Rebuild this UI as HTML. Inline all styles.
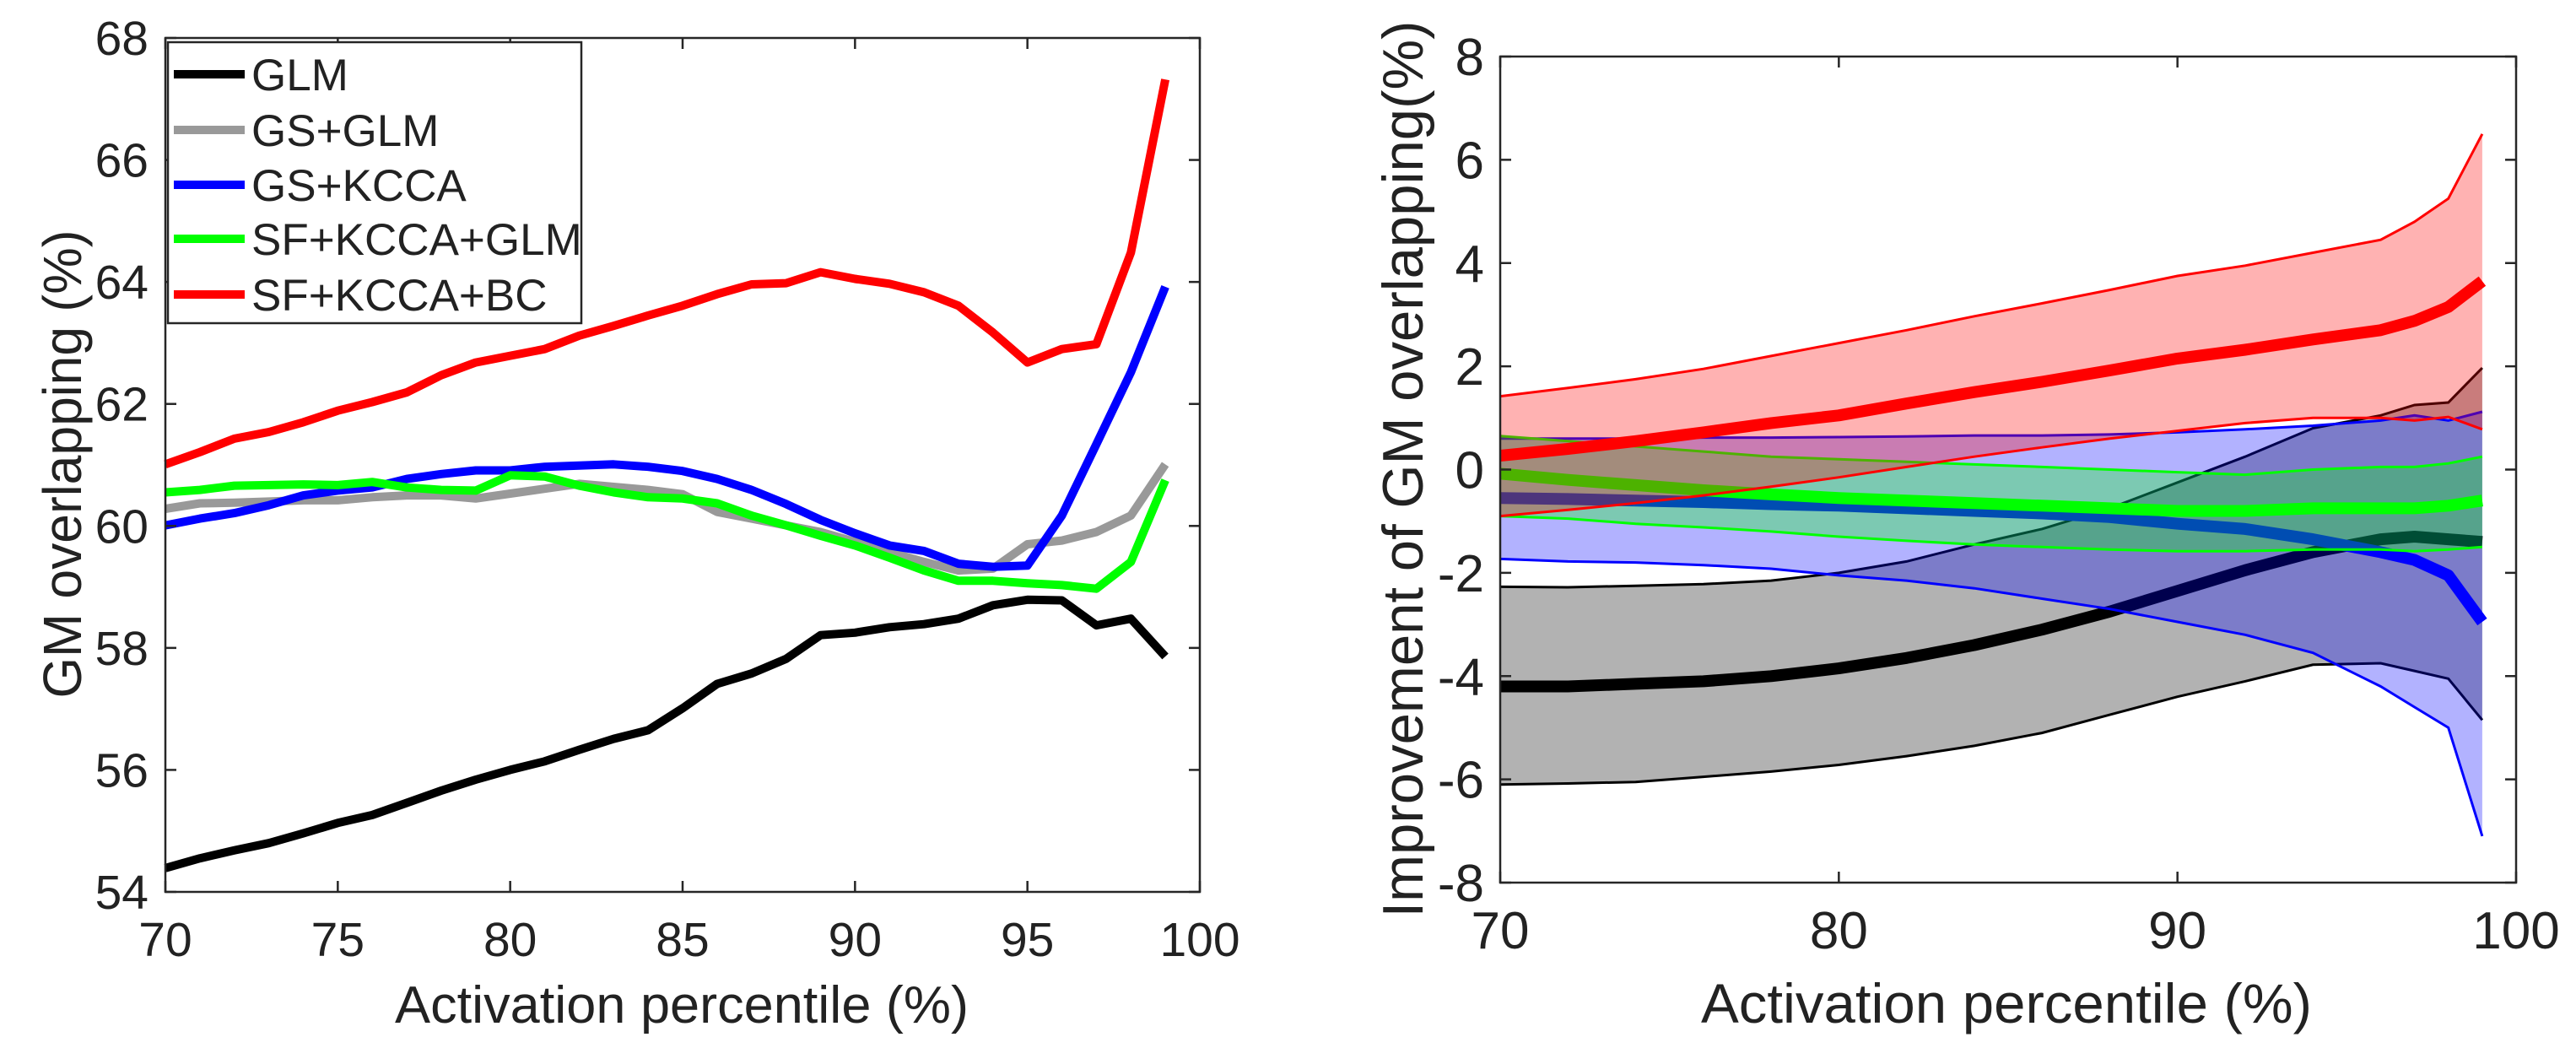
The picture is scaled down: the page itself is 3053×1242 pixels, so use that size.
<!DOCTYPE html>
<html><head><meta charset="utf-8"><style>
html,body{margin:0;padding:0;background:#fff}
svg text{font-family:"Liberation Sans",Arial,sans-serif;fill:#222}
</style></head><body>
<svg id="fig" width="3053" height="1237" viewBox="0 0 3053 1237" xmlns="http://www.w3.org/2000/svg">
<g id="left"></g>
<g id="right"></g>
</svg>
<script>
// ---------- Left chart data ----------
const xLeft = [70,71,72,73,74,75,76,77,78,79,80,81,82,83,84,85,86,87,88,89,90,91,92,93,94,95,96,97,98,99];
const glm = [54.39,54.55,54.68,54.80,54.96,55.13,55.26,55.46,55.66,55.84,56.00,56.14,56.33,56.51,56.65,57.01,57.41,57.58,57.82,58.21,58.25,58.34,58.39,58.48,58.70,58.79,58.78,58.37,58.48,57.86];
const gsGlm = [60.28,60.37,60.38,60.40,60.42,60.42,60.47,60.50,60.50,60.45,60.53,60.61,60.69,60.64,60.59,60.52,60.23,60.12,60.01,59.90,59.74,59.57,59.41,59.27,59.30,59.70,59.76,59.90,60.17,61.01];
const gsKcca = [60.01,60.12,60.21,60.34,60.50,60.58,60.63,60.77,60.85,60.91,60.91,60.97,60.99,61.01,60.97,60.90,60.77,60.59,60.36,60.10,59.88,59.68,59.59,59.38,59.33,59.35,60.17,61.34,62.52,63.92];
const sfKccaGlm = [60.55,60.59,60.66,60.67,60.68,60.67,60.72,60.63,60.59,60.58,60.83,60.81,60.66,60.55,60.47,60.45,60.37,60.17,60.01,59.84,59.68,59.48,59.27,59.10,59.10,59.06,59.03,58.97,59.41,60.75];
const sfKccaBc = [61.01,61.21,61.43,61.54,61.70,61.89,62.03,62.19,62.47,62.68,62.79,62.90,63.12,63.28,63.45,63.61,63.80,63.96,63.98,64.16,64.05,63.97,63.83,63.61,63.17,62.68,62.90,62.98,64.48,67.32];
const leftXTicks = [70,75,80,85,90,95,100];
const leftYTicks = [54,56,58,60,62,64,66,68];
const legendLabels = ["GLM","GS+GLM","GS+KCCA","SF+KCCA+GLM","SF+KCCA+BC"];

// ---------- Right chart data ----------
const xRight = [70,72,74,76,78,80,82,84,86,88,90,92,94,96,97,98,99];
const blackUpper = [-2.27,-2.28,-2.25,-2.22,-2.15,-2.0,-1.78,-1.45,-1.15,-0.75,-0.25,0.25,0.8,1.05,1.25,1.3,1.97];
const blackMean  = [-4.2,-4.2,-4.15,-4.1,-4.0,-3.85,-3.65,-3.4,-3.1,-2.75,-2.35,-1.95,-1.6,-1.35,-1.3,-1.35,-1.4];
const blackLower = [-6.1,-6.08,-6.05,-5.95,-5.85,-5.72,-5.55,-5.35,-5.1,-4.75,-4.4,-4.1,-3.78,-3.75,-3.9,-4.05,-4.85];
const blueUpper = [0.6,0.6,0.6,0.62,0.62,0.63,0.64,0.66,0.66,0.68,0.72,0.78,0.85,0.95,1.05,0.95,1.12];
const blueMean  = [-0.55,-0.57,-0.6,-0.63,-0.67,-0.7,-0.75,-0.8,-0.85,-0.92,-1.05,-1.15,-1.35,-1.6,-1.75,-2.05,-2.95];
const blueLower = [-1.73,-1.78,-1.8,-1.85,-1.92,-2.05,-2.15,-2.3,-2.5,-2.7,-2.95,-3.2,-3.55,-4.2,-4.6,-5.0,-7.1];
const greenUpper = [0.65,0.55,0.45,0.35,0.25,0.2,0.15,0.1,0.05,0.0,-0.05,-0.1,0.0,0.05,0.05,0.12,0.25];
const greenMean  = [-0.08,-0.2,-0.3,-0.4,-0.48,-0.55,-0.6,-0.65,-0.7,-0.75,-0.8,-0.8,-0.75,-0.75,-0.75,-0.7,-0.6];
const greenLower = [-0.9,-0.95,-1.05,-1.12,-1.2,-1.3,-1.38,-1.45,-1.5,-1.55,-1.58,-1.58,-1.55,-1.55,-1.58,-1.55,-1.5];
const redUpper = [1.42,1.58,1.75,1.95,2.2,2.45,2.7,2.97,3.22,3.48,3.75,3.95,4.2,4.45,4.8,5.25,6.5];
const redMean  = [0.27,0.4,0.55,0.72,0.9,1.05,1.28,1.5,1.7,1.92,2.15,2.32,2.52,2.7,2.88,3.15,3.65];
const redLower = [-0.9,-0.78,-0.65,-0.5,-0.33,-0.15,0.05,0.25,0.43,0.6,0.75,0.9,1.0,1.0,0.95,1.02,0.78];
const rightXTicks = [70,80,90,100];
const rightYTicks = [-8,-6,-4,-2,0,2,4,6,8];

const NS = "http://www.w3.org/2000/svg";
function mk(tag, attrs, parent){
  const e = document.createElementNS(NS, tag);
  for (const k in attrs) e.setAttribute(k, attrs[k]);
  parent.appendChild(e);
  return e;
}
function scale(d0,d1,r0,r1){ return v => r0 + (v-d0)/(d1-d0)*(r1-r0); }
function pts(xs, ys, sx, sy){ return xs.map((x,i)=>sx(x).toFixed(1)+","+sy(ys[i]).toFixed(1)).join(" "); }

// ---------- LEFT ----------
(function(){
  const g = document.getElementById('left');
  const L=196,R=1422,T=45,B=1057;
  const sx = scale(70,100,L,R), sy = scale(54,68,B,T);
  const series = [
    {d:glm, c:"#000000", n:"glm-line"},
    {d:gsGlm, c:"#999999", n:"gs-glm-line"},
    {d:gsKcca, c:"#0000ff", n:"gs-kcca-line"},
    {d:sfKccaGlm, c:"#00ff00", n:"sf-kcca-glm-line"},
    {d:sfKccaBc, c:"#ff0000", n:"sf-kcca-bc-line"}
  ];
  const axisBg = mk('rect',{x:L,y:T,width:R-L,height:B-T,fill:"#fff"},g);
  
  
  series.forEach(s=>{
    const p = mk('polyline',{points:pts(xLeft,s.d,sx,sy),fill:"none",stroke:s.c,"stroke-width":10,"stroke-linejoin":"round"},g);
    
    
  });
  const box = mk('rect',{x:L,y:T,width:R-L,height:B-T,fill:"none",stroke:"#262626","stroke-width":2.5},g);
  
  
  leftXTicks.forEach(t=>{
    const x=sx(t);
    mk('line',{x1:x,y1:B,x2:x,y2:B-13,stroke:"#262626","stroke-width":2.5},g);
    mk('line',{x1:x,y1:T,x2:x,y2:T+13,stroke:"#262626","stroke-width":2.5},g);
    const tx = mk('text',{x:x,y:1133,"font-size":57,"text-anchor":"middle"},g);
    tx.textContent=t;
    
    
  });
  leftYTicks.forEach(t=>{
    const y=sy(t);
    mk('line',{x1:L,y1:y,x2:L+13,y2:y,stroke:"#262626","stroke-width":2.5},g);
    mk('line',{x1:R,y1:y,x2:R-13,y2:y,stroke:"#262626","stroke-width":2.5},g);
    const tx = mk('text',{x:176,y:y+20,"font-size":57,"text-anchor":"end"},g);
    tx.textContent=t;
    
    
  });
  const xl = mk('text',{x:808,y:1212,"font-size":62,"text-anchor":"middle",textLength:680,lengthAdjust:"spacingAndGlyphs"},g);
  xl.textContent="Activation percentile (%)";
  
  
  const yl = mk('text',{x:0,y:0,"font-size":64,"text-anchor":"middle",textLength:555,lengthAdjust:"spacingAndGlyphs",transform:"translate(96,550) rotate(-90)"},g);
  yl.textContent="GM overlapping (%)";
  
  
  const lg = mk('g',{},g);
  
  
  const lb = mk('rect',{x:199,y:50,width:490,height:333,fill:"#fff",stroke:"#262626","stroke-width":2.5},lg);
  
  
  const ys=[88,154,219,283,349];
  legendLabels.forEach((lab,i)=>{
    const e = mk('g',{},lg);
    
    
    mk('line',{x1:206,y1:ys[i],x2:290,y2:ys[i],stroke:series[i].c,"stroke-width":10},e);
    const t = mk('text',{x:298,y:ys[i]+19,"font-size":53},e);
    t.textContent=lab;
  });
})();

// ---------- RIGHT ----------
(function(){
  const g = document.getElementById('right');
  const L=1778,R=2982,T=67,B=1046;
  const sx = scale(70,100,L,R), sy = scale(-8,8,B,T);
  const bands = [
    {u:blackUpper,m:blackMean,l:blackLower,c:"#000000",n:"glm"},
    {u:blueUpper,m:blueMean,l:blueLower,c:"#0000ff",n:"gs-kcca"},
    {u:greenUpper,m:greenMean,l:greenLower,c:"#00ff00",n:"sf-kcca-glm"},
    {u:redUpper,m:redMean,l:redLower,c:"#ff0000",n:"sf-kcca-bc"}
  ];
  bands.forEach(b=>{
    const poly = pts(xRight,b.u,sx,sy)+" "+pts(xRight.slice().reverse(),b.l.slice().reverse(),sx,sy);
    const f = mk('polygon',{points:poly,fill:b.c,"fill-opacity":0.3,stroke:"none"},g);
    
    
    const u = mk('polyline',{points:pts(xRight,b.u,sx,sy),fill:"none",stroke:b.c,"stroke-width":3},g);
    
    
    const lo = mk('polyline',{points:pts(xRight,b.l,sx,sy),fill:"none",stroke:b.c,"stroke-width":3},g);
    
    
    const m = mk('polyline',{points:pts(xRight,b.m,sx,sy),fill:"none",stroke:b.c,"stroke-width":14,"stroke-linejoin":"round"},g);
    
    
  });
  const box = mk('rect',{x:L,y:T,width:R-L,height:B-T,fill:"none",stroke:"#262626","stroke-width":2.5},g);
  
  
  rightXTicks.forEach(t=>{
    const x=sx(t);
    mk('line',{x1:x,y1:B,x2:x,y2:B-13,stroke:"#262626","stroke-width":2.5},g);
    mk('line',{x1:x,y1:T,x2:x,y2:T+13,stroke:"#262626","stroke-width":2.5},g);
    const tx = mk('text',{x:x,y:1124,"font-size":62,"text-anchor":"middle"},g);
    tx.textContent=t;
    
    
  });
  rightYTicks.forEach(t=>{
    const y=sy(t);
    mk('line',{x1:L,y1:y,x2:L+13,y2:y,stroke:"#262626","stroke-width":2.5},g);
    mk('line',{x1:R,y1:y,x2:R-13,y2:y,stroke:"#262626","stroke-width":2.5},g);
    const tx = mk('text',{x:1759,y:y+22,"font-size":62,"text-anchor":"end"},g);
    tx.textContent=t;
    
    
  });
  const xl = mk('text',{x:2378,y:1212,"font-size":66,"text-anchor":"middle",textLength:724,lengthAdjust:"spacingAndGlyphs"},g);
  xl.textContent="Activation percentile (%)";
  
  
  const yl = mk('text',{x:0,y:0,"font-size":68,"text-anchor":"middle",textLength:1063,lengthAdjust:"spacingAndGlyphs",transform:"translate(1686,556) rotate(-90)"},g);
  yl.textContent="Improvement of GM overlapping(%)";
  
  
})();
</script>
</body></html>
